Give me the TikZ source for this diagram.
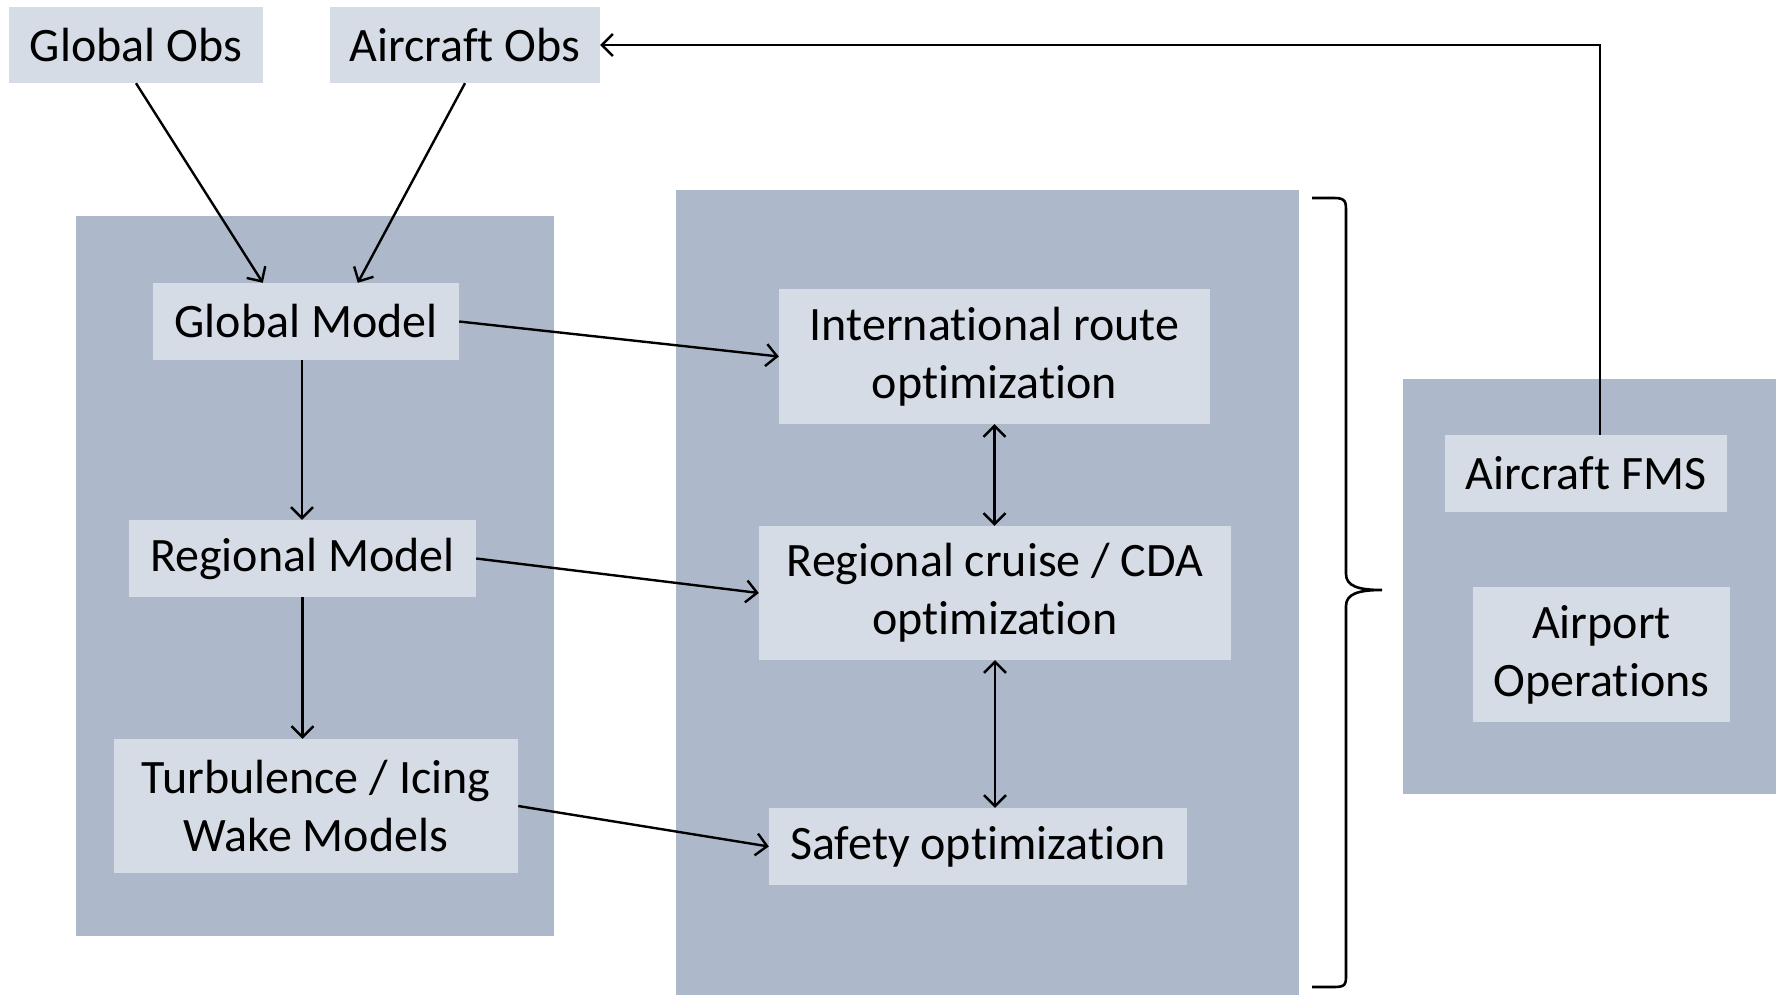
\documentclass[tikz,border=0pt]{standalone}
\usepackage{fontspec}
\setmainfont{Carlito}[Ligatures=NoCommon]
\usetikzlibrary{arrows.meta,calc}
\definecolor{panelc}{HTML}{ADB9CA}
\definecolor{boxc}{HTML}{D6DCE5}
\tikzset{
  panel/.style={fill=panelc, draw=none, inner sep=0pt},
  box/.style={fill=boxc, draw=none, inner sep=0pt, align=center, font=\fontsize{48}{58}\selectfont},
  conn/.style={line width=2.4pt, -{Straight Barb[length=11pt,width=22pt,line width=2.4pt]}},
  bconn/.style={line width=2.4pt, {Straight Barb[length=11pt,width=22pt,line width=2.4pt]}-{Straight Barb[length=11pt,width=22pt,line width=2.4pt]}},
  bracel/.style={line width=2.6pt}
}
\begin{document}
\begin{tikzpicture}[x=1pt,y=-1pt]
\useasboundingbox (0,0) rectangle (1776,995);
% panels
\node[panel, minimum width=478pt, minimum height=720pt] (lpanel) at (315,576) {};
\node[panel, minimum width=623pt, minimum height=805pt] (mpanel) at (987.5,592.5) {};
\node[panel, minimum width=373pt, minimum height=415pt] (rpanel) at (1589.5,586.5) {};
% boxes
\node[box, minimum width=254pt, minimum height=76pt] (gobs) at (136,45) {Global Obs};
\node[box, minimum width=270pt, minimum height=76pt] (aobs) at (465,45) {Aircraft Obs};
\node[box, minimum width=306pt, minimum height=77pt] (gmod) at (306,321.5) {Global Model};
\node[box, minimum width=347pt, minimum height=77pt] (rmod) at (302.5,558.5) {Regional Model};
\node[box, minimum width=404pt, minimum height=134pt] (turb) at (316,806) {Turbulence / Icing\\Wake Models};
\node[box, minimum width=431pt, minimum height=135pt] (intl) at (994.5,356.5) {International route\\optimization};
\node[box, minimum width=472pt, minimum height=134pt] (rcru) at (995,593) {Regional cruise / CDA\\optimization};
\node[box, minimum width=418pt, minimum height=77pt] (safe) at (978,846.5) {Safety optimization};
\node[box, minimum width=282pt, minimum height=77pt] (fms) at (1586,473.5) {Aircraft FMS};
\node[box, minimum width=257pt, minimum height=135pt] (apt) at (1601.5,654.5) {Airport\\Operations};
% connectors
\draw[conn] (gobs.south) -- ([xshift=110pt]gmod.north west);
\draw[conn] (aobs.south) -- ([xshift=205pt]gmod.north west);
\draw[conn] (gmod.east) -- (intl.west);
\draw[conn] (rmod.east) -- (rcru.west);
\draw[conn] (turb.east) -- (safe.west);
\draw[conn] ([xshift=-4pt]gmod.south) -- ([xshift=-4pt]gmod.south |- rmod.north);
\draw[conn] (rmod.south) -- (rmod.south |- turb.north);
\draw[bconn] (intl.south) -- (intl.south |- rcru.north);
\draw[bconn] (rcru.south) -- (rcru.south |- safe.north);
\draw[conn] ([xshift=14pt]fms.north) |- (aobs.east);
% brace
\draw[bracel] (1312,198) -- (1334,198) .. controls (1346,198) and (1346,202) .. (1346,212) -- (1346,574) .. controls (1346,586) and (1358,590) .. (1382,590) .. controls (1358,590) and (1346,594) .. (1346,606) -- (1346,974) .. controls (1346,984) and (1346,987) .. (1334,987) -- (1312,987);
\end{tikzpicture}
\end{document}
